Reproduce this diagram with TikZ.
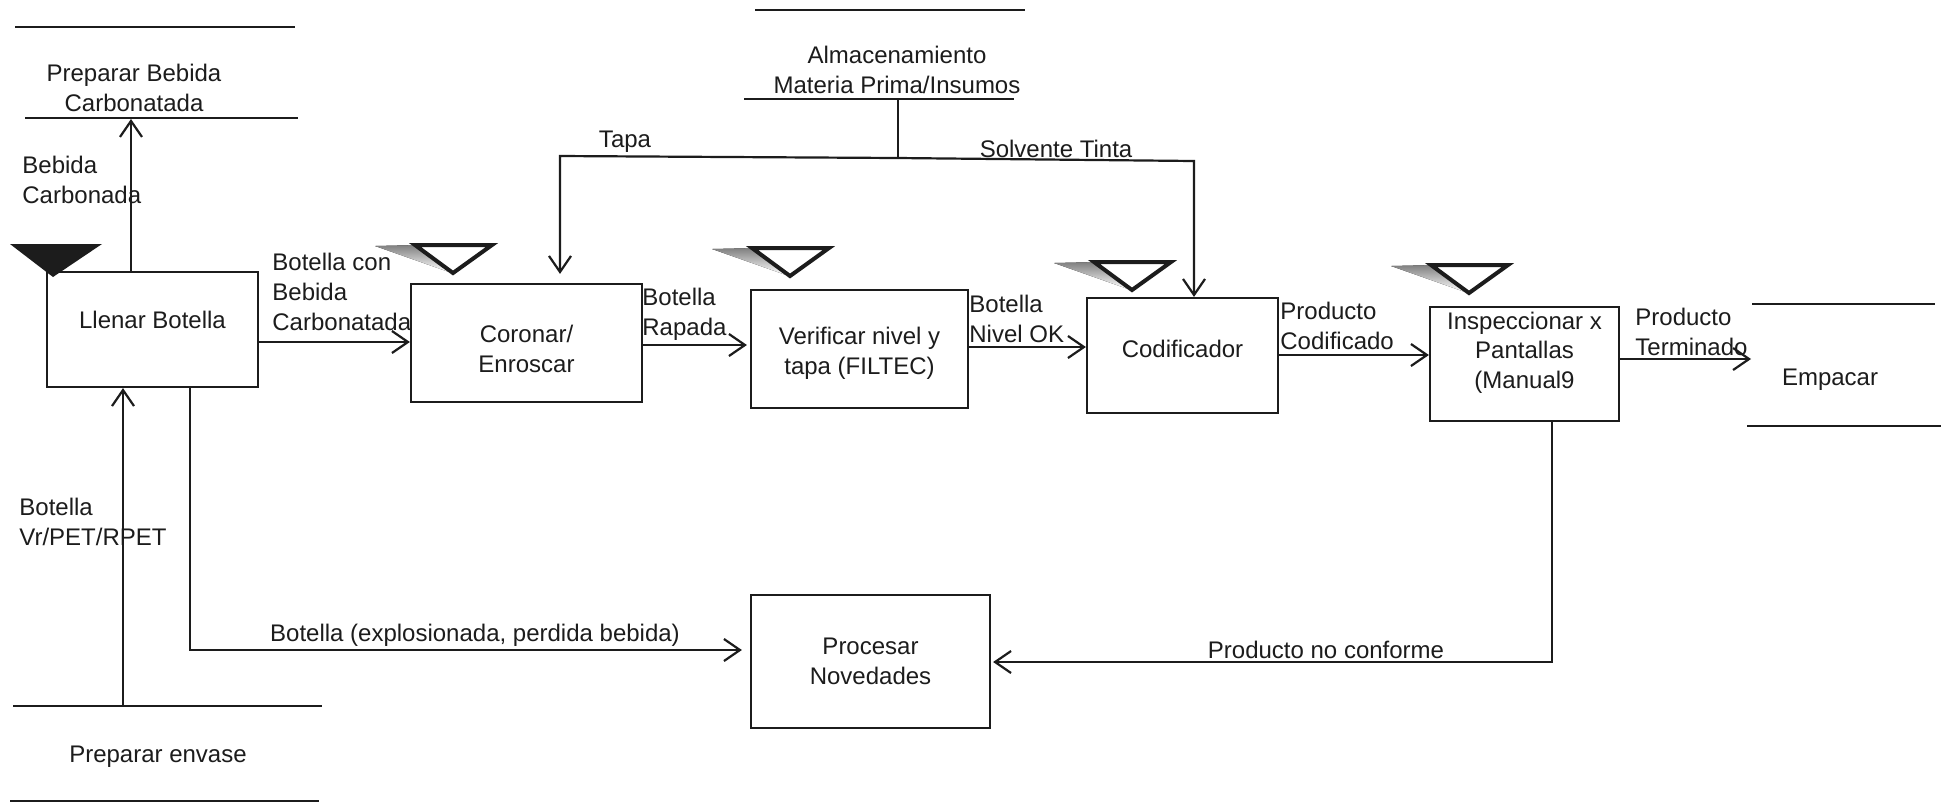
\documentclass[tikz,border=0pt]{standalone}
\usepackage{fontspec}
\setmainfont{Liberation Sans}
\usetikzlibrary{arrows.meta,calc}
\definecolor{ink}{HTML}{1C1C1C}
\definecolor{shade}{HTML}{8A8A8A}

\tikzset{
  line/.style={draw=ink, line width=1.1pt},
  proc/.style={draw=ink, line width=1.1pt, rectangle, align=center, inner sep=0pt},
  lbl/.style={align=left, anchor=west, inner sep=0pt},
  ctr/.style={align=center, inner sep=0pt},
  flow/.style={draw=ink, line width=1.1pt,
    -{Straight Barb[length=8pt,width=11pt,line width=1.1pt]}},
  % inspection/wait mark: outlined inverted triangle with a grey shadow
  waitmark/.pic={
    \fill[shade] (-40,1) -- (3,0) -- (34,27) -- cycle;
    \filldraw[fill=white, draw=ink, line width=2pt] (0,0) -- (77,0) -- (38,28) -- cycle;
  }
}

\begin{document}
\begin{tikzpicture}[x=0.5pt, y=-0.5pt, color=ink, font=\fontsize{12}{14.8}\selectfont]
\fill[white] (0,0) rectangle (1941,805);
\useasboundingbox (0,0) rectangle (1941,805);

% ---------- process boxes ----------
\node[proc, minimum width=105.5pt, minimum height=57.5pt, text depth=9.5pt] (llenar) at (152.5,329.5) {Llenar Botella};
\node[proc, minimum width=115.5pt, minimum height=59pt, text height=29.5pt] (coronar) at (526.5,343) {Coronar/\\Enroscar};
\node[proc, minimum width=108.5pt, minimum height=59pt, text height=28pt] (verificar) at (859.5,349) {Verificar nivel y\\tapa (FILTEC)};
\node[proc, minimum width=95.5pt,  minimum height=57.5pt, text depth=7pt] (codif) at (1182.5,355.5) {Codificador};
\node[proc, minimum width=94.5pt,  minimum height=57pt, text depth=14pt] (insp) at (1524.5,364) {Inspeccionar x\\Pantallas\\(Manual9};
\node[proc, minimum width=119.5pt, minimum height=66.5pt] (procesar)  at (870.5,661.5) {Procesar\\Novedades};

% ---------- stores (text between two lines) ----------
\node[ctr] (pbc) at (134,88) {Preparar Bebida\\Carbonatada};
\draw[line] (15,27) -- (295,27);
\draw[line] (25,118) -- (298,118);
\coordinate (pbcIn) at (131,119);

\node[ctr] (alm) at (897,70) {Almacenamiento\\Materia Prima/Insumos};
\draw[line] (755,10) -- (1025,10);
\draw[line] (744,99) -- (1014,99);
\coordinate (almOut) at (898,99);

\node[ctr] (emp) at (1830,380) {Empacar};
\draw[line] (1752,304) -- (1935,304);
\draw[line] (1747,426) -- (1941,426);
\coordinate (empIn) at (1751,359);

\node[ctr] (penv) at (158,757) {Preparar envase};
\draw[line] (13,706) -- (322,706);
\draw[line] (10,801) -- (319,801);
\coordinate (penvOut) at (123,706);

% ---------- wait marks ----------
\fill[ink] (10,244) -- (102,244) -- (53,277) -- cycle;
\pic at (415,245)  {waitmark};
\pic at (752,248)  {waitmark};
\pic at (1094,262) {waitmark};
\pic at (1431,265) {waitmark};

% ---------- main flow ----------
\draw[flow] (llenar.east |- 0,342) -- (coronar.west |- 0,342);
\draw[flow, shorten >=1.5pt] (coronar.east |- 0,345) -- (verificar.west |- 0,345);
\draw[flow] (verificar.east |- 0,347) -- (codif.west |- 0,347);
\draw[flow] (codif.east |- 0,355) -- (insp.west |- 0,355);
\draw[flow] (insp.east |- 0,359) -- (empIn);

% beverage out, containers in
\draw[flow] (llenar.north -| pbcIn) -- (pbcIn);
\draw[flow] (penvOut) -- (penvOut |- llenar.south);

% raw material supply
\coordinate (split)     at (898,158);
\coordinate (tapaTurn)  at (560,156);
\coordinate (tintaTurn) at (1194,161);
\draw[line] (almOut) -- (split);
\draw[flow, shorten >=4.5pt] (split) -- (tapaTurn) -- (tapaTurn |- coronar.north);
\draw[flow] (split) -- (tintaTurn) -- (tintaTurn |- codif.north);

% rejects to Procesar Novedades
\coordinate (brkTurn) at (190,650);
\draw[flow, shorten >=4pt] (llenar.south -| brkTurn) -- (brkTurn) -- (procesar.west |- brkTurn);
\coordinate (ncTurn) at (1552,662);
\draw[flow, shorten >=1pt] (insp.south -| ncTurn) -- (ncTurn) -- (procesar.east |- ncTurn);

% ---------- flow labels ----------
\node[lbl] (lbBeb)  at (22,180)   {Bebida\\Carbonada};
\node[lbl] (lbBcb)  at (272,292)  {Botella con\\Bebida\\Carbonatada};
\node[lbl] (lbRap)  at (642,314)  {Botella\\Rapada};
\node[lbl] (lbNok)  at (969,319)  {Botella\\Nivel OK};
\node[lbl] (lbPcod) at (1280,326) {Producto\\Codificado};
\node[lbl] (lbPter) at (1635,332) {Producto\\Terminado};
\node[lbl] (lbVr)   at (19,522)   {Botella\\Vr/PET/RPET};
\node[ctr] (lbExp)  at (475,635)  {Botella (explosionada, perdida bebida)};
\node[ctr] (lbNc)   at (1326,650) {Producto no conforme};
\node[ctr] (lbTapa) at (625,142)  {Tapa};
\node[ctr] (lbTinta) at (1056,149) {Solvente Tinta};
\end{tikzpicture}
\end{document}
